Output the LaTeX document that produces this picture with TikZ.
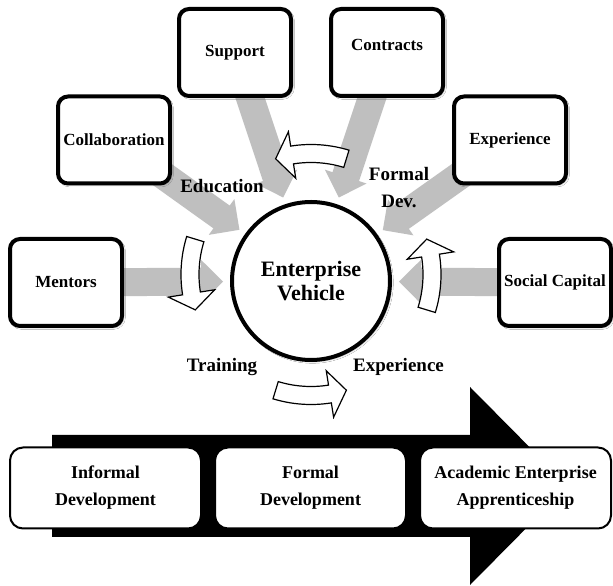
\documentclass[tikz,border=0pt]{standalone}
\usepackage{fontspec}
\setmainfont{Liberation Serif}
\usetikzlibrary{calc,backgrounds,shadows.blur}

\tikzset{
  softshadow/.style={blur shadow={shadow xshift=1.5pt, shadow yshift=-1.5pt,
    shadow blur steps=5, shadow opacity=30}},
  topbox/.style={draw=black, line width=4pt, fill=white, rounded corners=10pt,
    minimum width=112pt, minimum height=87pt, inner sep=0pt, softshadow,
    font=\fontsize{17}{20}\selectfont\bfseries},
  hubnode/.style={circle, draw=black, line width=4pt, fill=white,
    minimum size=158pt, inner sep=0pt, align=center, softshadow,
    font=\fontsize{22}{24}\selectfont\bfseries},
  stagebox/.style={draw=black, line width=2pt, fill=white, rounded corners=13pt,
    minimum width=191pt, minimum height=81pt, inner sep=0pt, align=center,
    font=\fontsize{18}{27}\selectfont\bfseries},
  flowlabel/.style={inner sep=0pt, align=center,
    font=\fontsize{19}{27}\selectfont\bfseries},
  feed/.style={fill=black!25},
  cycarrow/.style={draw=black, line width=1.2pt, fill=white, line join=miter},
  bigarrow/.style={fill=black}
}

\begin{document}
\begin{tikzpicture}[x=1pt, y=1pt]
\useasboundingbox (0,0) rectangle (613,586);

% the development path behind the three stages
\fill[bigarrow] (52,49) -- (470,49) -- (470,1) -- (568,100) -- (470,199)
  -- (470,151) -- (52,151) -- cycle;

% hub
\node[hubnode] (hub) at (311,305) {Enterprise\\Vehicle};
\coordinate (cyc) at (311,311.5);

% contributing resources
\node[topbox] (support)   at (235,533.5) {Support};
\node[topbox, text depth=16pt] (contracts) at (387,533.5) {Contracts};
\node[topbox] (collab)    at (114,446)   {Collaboration};
\node[topbox] (expbox)    at (510,446)   {Experience};
\node[topbox] (mentors)   at (66,303.5)  {Mentors};
\node[topbox] (social)    at (555,303.5) {Social Capital};

% block arrows feeding the hub
\begin{scope}[on background layer]
  \fill[white] (0,0) rectangle (613,586);
  \foreach \b in {mentors,collab,support,contracts,expbox,social} {
    \coordinate (\b-t) at ($(hub.center)!88pt!(\b.center)$);
    \coordinate (\b-b) at ($(\b-t)!22pt!(\b.center)$);
    \fill[feed] ($(\b.center)!14pt!90:(\b-t)$) -- ($(\b-b)!14pt!-90:(\b.center)$)
      -- ($(\b-b)!22pt!-90:(\b.center)$) -- (\b-t)
      -- ($(\b-b)!22pt!90:(\b.center)$) -- ($(\b-b)!14pt!90:(\b.center)$)
      -- ($(\b.center)!14pt!-90:(\b-t)$) -- cycle;
  }
\end{scope}

% cycle of curved arrows around the hub
\foreach \t in {73,163,253,343} {
  \draw[cycarrow] ($(cyc)+(\t:130pt)$) arc[start angle=\t, end angle=\t+26, radius=130pt]
    -- ($(cyc)+(\t+26:144.5pt)$) -- ($(cyc)+(\t+34:121pt)$)
    -- ($(cyc)+(\t+26:97.5pt)$) -- ($(cyc)+(\t+26:112pt)$)
    arc[start angle=\t+26, end angle=\t, radius=112pt] -- cycle;
}

% cycle labels
\node[flowlabel, anchor=base] (edu)   at (222,393)   {Education};
\node[flowlabel]              (fdev)  at (399,398)   {Formal\\Dev.};
\node[flowlabel, anchor=base] (train) at (222,214)   {Training};
\node[flowlabel, anchor=base] (expr)  at (398.5,214) {Experience};

% stages
\node[stagebox] (informal) at (105.5,98) {Informal\\Development};
\node[stagebox] (formal)   at (310.5,98) {Formal\\Development};
\node[stagebox] (academic) at (515.5,98) {Academic Enterprise\\Apprenticeship};
\end{tikzpicture}
\end{document}
